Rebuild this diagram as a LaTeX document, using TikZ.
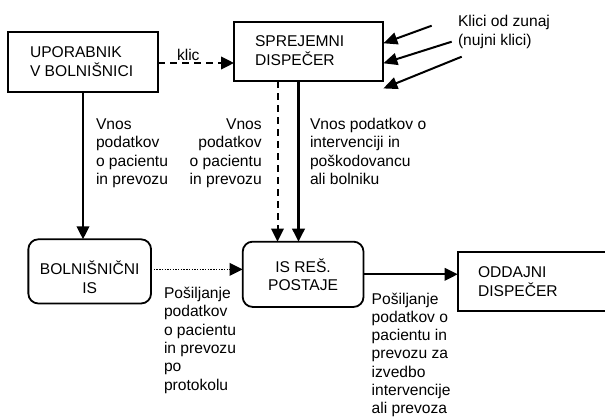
\documentclass[tikz,border=0pt]{standalone}
\usepackage{fontspec}
\setmainfont{Liberation Sans}
\usetikzlibrary{arrows.meta}
\newcommand\labl[1]{\begin{tabular}[t]{@{}l@{}}#1\end{tabular}}
\newcommand\labr[1]{\begin{tabular}[t]{@{}r@{}}#1\end{tabular}}
\newcommand\bxt[4]{\raisebox{-#1}[\height][\depth]{\makebox[#2][#3]{\begin{tabular}{@{}#3@{}}#4\end{tabular}}}}
\begin{document}
\begin{tikzpicture}[x=1pt,y=-1pt,
  font=\fontsize{15.6pt}{18.3pt}\selectfont,
  box/.style={draw, line width=1.8pt, inner sep=0pt, outer sep=0pt},
  rbox/.style={box, rounded corners=10pt},
  lbl/.style={inner sep=0pt, outer sep=0pt},
  tip/.style={-{Triangle[length=13pt,width=12.5pt]}},
  arr/.style={line width=2pt, tip},
  dsh/.style={arr, dash pattern=on 6.5pt off 5.5pt},
  dot/.style={line width=1.6pt, dash pattern=on 1.4pt off 1.3pt, tip},
  karr/.style={line width=2pt, -{Triangle[length=14pt,width=12pt]}}]
\fill[white] (0,0) rectangle (605,417);
\useasboundingbox (0,0) rectangle (605,417);
\clip (0,0) rectangle (605,417);

% boxes
\node[box, minimum width=150pt, minimum height=60pt] (upor) at (83,62)
  {\bxt{1.5pt}{106pt}{l}{UPORABNIK\\V BOLNIŠNICI}};
\node[box, minimum width=149.3pt, minimum height=59.3pt] (sprej) at (308.7,51.5)
  {\bxt{1pt}{107.4pt}{l}{SPREJEMNI\\DISPEČER}};
\node[rbox, minimum width=122.7pt, minimum height=64.2pt] (boln) at (89.7,271.4)
  {\bxt{8.5pt}{100pt}{c}{BOLNIŠNIČNI\\IS}};
\node[rbox, minimum width=120.8pt, minimum height=65.3pt] (isres) at (303.1,274.3)
  {\bxt{3pt}{90pt}{c}{IS REŠ.\\POSTAJE}};
\node[box, minimum width=162.4pt, minimum height=58.4pt] (odd) at (538.9,281.5)
  {\bxt{2pt}{121.8pt}{l}{ODDAJNI\\DISPEČER}};

% labels
\node[lbl, anchor=base west] (klic) at (177,60.5) {klic};
\node[lbl, anchor=base west] (zunaj) at (458,27) {\labl{Klici od zunaj\\(nujni klici)}};
\node[lbl, anchor=base west] (t1) at (96,129.5) {\labl{Vnos\\podatkov\\o pacientu\\in prevozu}};
\node[lbl, anchor=base east] (t2) at (261.7,129.5) {\labr{Vnos\\podatkov\\o pacientu\\in prevozu}};
\node[lbl, anchor=base west] (t3) at (310,129.5) {\labl{Vnos podatkov o\\intervenciji in\\poškodovancu\\ali bolniku}};
\node[lbl, anchor=base west] (t4) at (164,298.6) {\labl{Pošiljanje\\podatkov\\o pacientu\\in prevozu\\po\\protokolu}};
\node[lbl, anchor=base west] (t5) at (371.7,304) {\labl{Pošiljanje\\podatkov o\\pacientu in\\prevozu za\\izvedbo\\intervencije\\ali prevoza}};

% connectors
\draw[arr] (upor.south) -- (upor.south |- boln.north);
\draw[dsh] ([yshift=-1pt]upor.east) -- ([yshift=-1pt]upor.east -| sprej.west);
\draw[dsh] ([xshift=-31.2pt]sprej.south) -- ([xshift=-31.2pt]sprej.south |- isres.north);
\draw[arr, line width=2.4pt] ([xshift=-10.2pt]sprej.south) -- ([xshift=-10.2pt]sprej.south |- isres.north);
\draw[dot] ([yshift=2pt]boln.east) -- ([yshift=2pt]boln.east -| isres.west);
\draw[arr] (isres.east) -- (isres.east -| odd.west);

\coordinate (k1) at (431.7,25.7);
\coordinate (k2) at (451.7,41.7);
\coordinate (k3) at (461.7,56.7);
\draw[karr] (k1) -- ([yshift=8.2pt]sprej.east);
\draw[karr] (k2) -- ([yshift=-11.8pt]sprej.east);
\draw[karr] (k3) -- ([yshift=-7.3pt]sprej.south east);
\end{tikzpicture}
\end{document}
